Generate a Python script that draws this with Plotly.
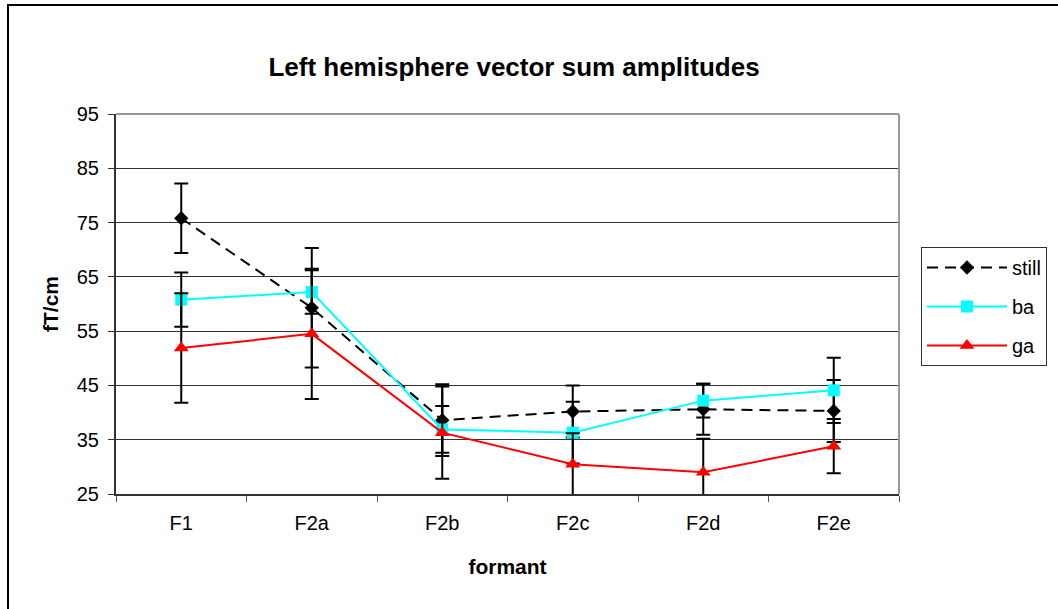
import plotly.graph_objects as go

categories = ["F1", "F2a", "F2b", "F2c", "F2d", "F2e"]
still = [75.8, 59.3, 38.6, 40.2, 40.6, 40.3]
still_err = [6.4, 11.0, 6.6, 4.8, 4.7, 5.7]
ba = [60.8, 62.2, 36.9, 36.3, 42.2, 44.1]
ba_err = [5.0, 4.0, 4.3, 5.7, 3.1, 6.0]
ga = [51.9, 54.5, 36.3, 30.5, 29.0, 33.8]
ga_err = [10.1, 12.0, 8.5, 5.7, 6.2, 5.0]
y_ticks = [25, 35, 45, 55, 65, 75, 85, 95]

FONT = "Liberation Sans, Arial, sans-serif"

def err(arr):
    return dict(type="data", array=arr, visible=True, color="black", thickness=2, width=7)

fig = go.Figure()
fig.add_trace(go.Scatter(
    x=categories, y=still, name="still", legendgroup="g1", mode="lines+markers",
    line=dict(color="black", width=2, dash="11px,7px"),
    marker=dict(symbol="diamond", size=11, color="black"),
    error_y=err(still_err)))
fig.add_trace(go.Scatter(
    x=categories, y=ba, name="ba", legendgroup="g2", mode="lines+markers",
    line=dict(color="#00FFFF", width=2),
    marker=dict(symbol="square", size=12, color="#00FFFF"),
    error_y=err(ba_err)))
fig.add_trace(go.Scatter(
    x=categories, y=ga, name="ga", legendgroup="g3", mode="lines+markers",
    line=dict(color="#FF0000", width=2),
    marker=dict(symbol="triangle-up", size=13, color="#FF0000"),
    error_y=err(ga_err)))

L, R, T, B = 116, 899, 114, 494
W, H = 1058, 609
fig.update_layout(
    width=W, height=H,
    margin=dict(l=L, r=W - R, t=T, b=H - B, pad=0, autoexpand=False),
    paper_bgcolor="white", plot_bgcolor="white",
    font=dict(family=FONT, size=20, color="black"),
    title=dict(text="<b>Left hemisphere vector sum amplitudes</b>",
               font=dict(family=FONT, size=26, color="black"),
               x=(514) / W, xanchor="center", y=1 - 67 / H, yanchor="middle"),
    showlegend=True,
    legend=dict(x=(921 - L) / (R - L), y=(B - 247) / (B - T), xanchor="left", yanchor="top",
                bordercolor="#333333", borderwidth=1, bgcolor="white",
                font=dict(family=FONT, size=20, color="black"),
                itemwidth=80, traceorder="grouped", tracegroupgap=10),
    xaxis=dict(type="category", categoryorder="array", categoryarray=categories,
               range=[-0.5, 5.5], tickson="boundaries", ticks="outside", ticklen=6,
               tickcolor="#555555", showline=True, linecolor="#333333", linewidth=2,
               showgrid=False, tickfont=dict(family=FONT, size=20), ticklabelstandoff=10,
               title=dict(text="<b>formant</b>", font=dict(family=FONT, size=21), standoff=26)),
    yaxis=dict(range=[25, 95], tickvals=y_ticks, ticks="outside", ticklen=6,
               tickcolor="#333333", showline=True, linecolor="#333333", linewidth=2,
               showgrid=True, gridcolor="#333333", gridwidth=1, zeroline=False,
               tickfont=dict(family=FONT, size=20), ticklabelstandoff=5,
               title=dict(text="<b>fT/cm</b>", font=dict(family=FONT, size=21), standoff=12)),
    shapes=[
        dict(type="line", xref="paper", yref="paper", x0=0, x1=1, y0=1, y1=1,
             line=dict(color="#999999", width=2), layer="above"),
        dict(type="line", xref="paper", yref="paper", x0=1, x1=1, y0=0, y1=1,
             line=dict(color="#999999", width=2), layer="above"),
        dict(type="rect", xref="paper", yref="paper",
             x0=(8 - L) / (R - L), x1=(W + 20 - L) / (R - L),
             y0=(B - H - 20) / (B - T), y1=(B - 5) / (B - T),
             line=dict(color="black", width=2), layer="below"),
    ],
)

fig.write_html("out.html")
